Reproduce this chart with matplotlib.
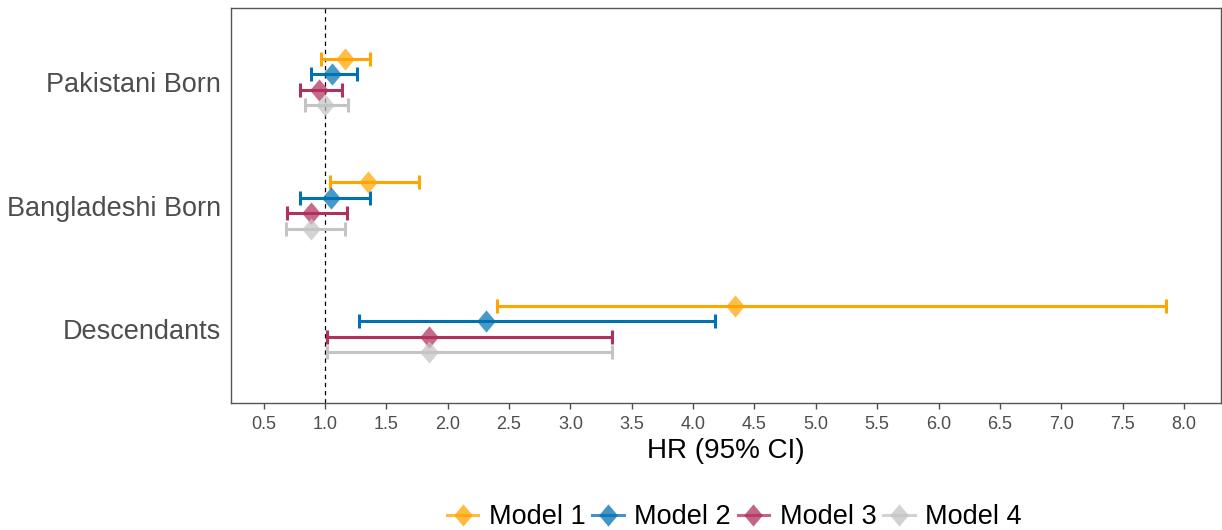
import numpy as np
import matplotlib
matplotlib.use("Agg")
from matplotlib import pyplot as plt
from matplotlib.lines import Line2D

plt.rcParams['font.family'] = ['Liberation Sans', 'DejaVu Sans']

# data
groups = ['Pakistani Born', 'Bangladeshi Born', 'Descendants']
models = ['Model 1', 'Model 2', 'Model 3', 'Model 4']
hr = [[1.16, 1.06, 0.95, 1.00],
      [1.35, 1.05, 0.89, 0.89],
      [4.34, 2.31, 1.85, 1.85]]
lo = [[0.97, 0.89, 0.80, 0.84],
      [1.04, 0.80, 0.69, 0.68],
      [2.40, 1.28, 1.02, 1.02]]
hi = [[1.37, 1.26, 1.14, 1.19],
      [1.77, 1.37, 1.18, 1.16],
      [7.85, 4.18, 3.34, 3.34]]
colors = ['#FFA500', '#0072B2', '#B0305E', '#C4C4C4']
xticks = np.arange(0.5, 8.01, 0.5)

diamond = [(0, 1), (0.84, 0), (0, -1), (-0.84, 0), (0, 1)]

fig = plt.figure(figsize=(12.22, 5.30), dpi=100)
ax = fig.add_axes([0.189, 0.2396, 0.81, 0.7453])

ypos = np.array([3, 2, 1])
offs = [0.1875, 0.0625, -0.0625, -0.1875]
for j in range(len(models)):
    for i in range(len(groups)):
        y = ypos[i] + offs[j]
        ax.errorbar(hr[i][j], y,
                    xerr=[[hr[i][j] - lo[i][j]], [hi[i][j] - hr[i][j]]],
                    fmt='none', ecolor=colors[j], elinewidth=2.2,
                    capsize=5, capthick=2.2, zorder=2)
        ax.plot(hr[i][j], y, marker=diamond, ms=16, color=colors[j],
                alpha=0.72, mew=0, linestyle='none', zorder=3)

ax.axvline(1.0, color='black', lw=0.9, ls=(0, (3.5, 3)), zorder=1)

ax.set_xlim(0.234, 8.30)
ax.set_ylim(0.4, 3.6)
ax.set_xticks(xticks)
ax.set_xticklabels([f'{v:.1f}' for v in xticks])
ax.set_yticks(ypos)
ax.set_yticklabels(groups)
ax.tick_params(axis='x', labelsize=13, colors='#4D4D4D', length=4, width=1, pad=5)
ax.tick_params(axis='y', labelsize=19.5, colors='#4D4D4D', length=0, pad=7)
for s in ax.spines.values():
    s.set_color('#555555')
    s.set_linewidth(1)
ax.set_xlabel('HR (95% CI)', fontsize=20, color='black', labelpad=4)

handles = [Line2D([0], [0], color=c, lw=2.2, marker=diamond, ms=16,
                  markeredgewidth=0, alpha=0.75) for c in colors]
fig.legend(handles, models, loc='center', bbox_to_anchor=(0.601, 0.024),
           ncol=4, frameon=False, fontsize=19.5, handlelength=1.15,
           handletextpad=0.4, columnspacing=0.25)

plt.savefig('out.png', dpi=100)
